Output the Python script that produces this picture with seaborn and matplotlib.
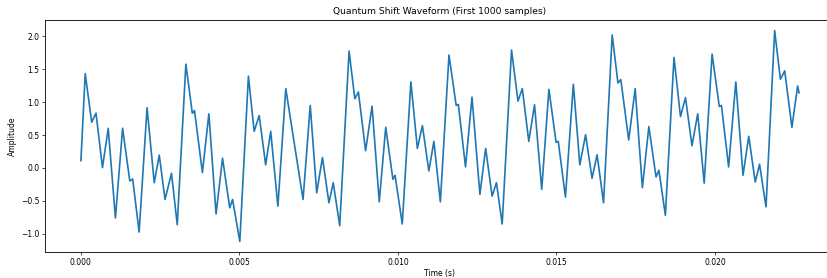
import numpy as np
import pandas as pd
import seaborn as sns
import matplotlib
matplotlib.use("Agg")
import matplotlib.pyplot as plt

# Частота дискретизации и точки волны (номер отсчёта, амплитуда)
sample_rate = 44100
sample_idx = [0, 6, 15, 21, 30, 38, 48, 58, 68, 72, 81, 92, 102, 109, 117, 126, 134, 146,
              155, 158, 169, 178, 188, 197, 207, 211, 221, 233, 241, 248, 257, 264, 274,
              285, 296, 309, 319, 328, 336, 345, 351, 360, 373, 381, 386, 396, 405, 415,
              424, 434, 437, 447, 459, 468, 475, 484, 491, 500, 512, 522, 525, 535, 544,
              555, 563, 572, 578, 586, 599, 608, 614, 623, 631, 641, 651, 661, 664, 674,
              685, 694, 702, 711, 718, 727, 739, 747, 751, 762, 771, 781, 790, 800, 804,
              813, 825, 834, 841, 850, 858, 867, 878, 888, 891, 901, 911, 921, 929, 938,
              944, 953, 965, 973, 979, 989, 997, 999]
amplitude = [0.107, 1.434, 0.694, 0.832, 0.005, 0.602, -0.761, 0.602, -0.199, -0.168,
             -0.975, 0.914, -0.225, 0.194, -0.48, -0.082, -0.863, 1.577, 0.83, 0.873,
             -0.07, 0.822, -0.70, 0.148, -0.607, -0.48, -1.118, 1.394, 0.556, 0.796,
             0.046, 0.556, -0.582, 1.205, 0.429, -0.48, 0.949, -0.378, 0.158, -0.531,
             -0.225, -0.878, 1.776, 1.052, 1.154, 0.260, 0.939, -0.516, 0.618, -0.174,
             -0.112, -0.852, 1.307, 0.296, 0.643, -0.046, 0.403, -0.516, 1.715, 0.949,
             0.965, 0.015, 1.077, -0.403, 0.296, -0.429, -0.225, -0.852, 1.792, 1.016,
             1.205, 0.403, 0.960, -0.327, 1.194, 0.388, 0.403, -0.444, 1.271, 0.046,
             0.505, -0.158, 0.199, -0.531, 2.021, 1.291, 1.343, 0.424, 1.205, -0.301,
             0.628, -0.138, -0.036, -0.720, 1.679, 0.781, 1.067, 0.337, 0.822, -0.232,
             1.730, 0.934, 0.949, 0.015, 1.307, -0.112, 0.480, -0.214, 0.056, -0.592,
             2.088, 1.348, 1.475, 0.618, 1.246, 1.138]

df = pd.DataFrame({"Time": np.array(sample_idx) / sample_rate, "Amplitude": amplitude})

sns.set_style("ticks", {"axes.edgecolor": "black", "text.color": "black",
                        "axes.labelcolor": "black", "xtick.color": "black",
                        "ytick.color": "black"})
plt.rcParams["font.family"] = ["DejaVu Sans"]

fig = plt.figure(figsize=(8.28, 2.78), dpi=100)
ax = fig.add_axes([45 / 828, 26 / 278, 790 / 828, 232 / 278])

sns.lineplot(data=df, x="Time", y="Amplitude", color="#1f77b4", linewidth=1.2, ax=ax)

ax.set_title("Quantum Shift Waveform (First 1000 samples)", fontsize=6.6, pad=4)
ax.set_xlabel("Time (s)", fontsize=5.5, labelpad=2)
ax.set_ylabel("Amplitude", fontsize=5.5, labelpad=3)
ax.set_xticks([0.0, 0.005, 0.010, 0.015, 0.020])
ax.set_xticklabels(["0.000", "0.005", "0.010", "0.015", "0.020"])
ax.tick_params(labelsize=5.5, length=2, width=0.5, pad=2)
for s in ax.spines.values():
    s.set_linewidth(0.6)

fig.savefig("out.png", dpi=100)
